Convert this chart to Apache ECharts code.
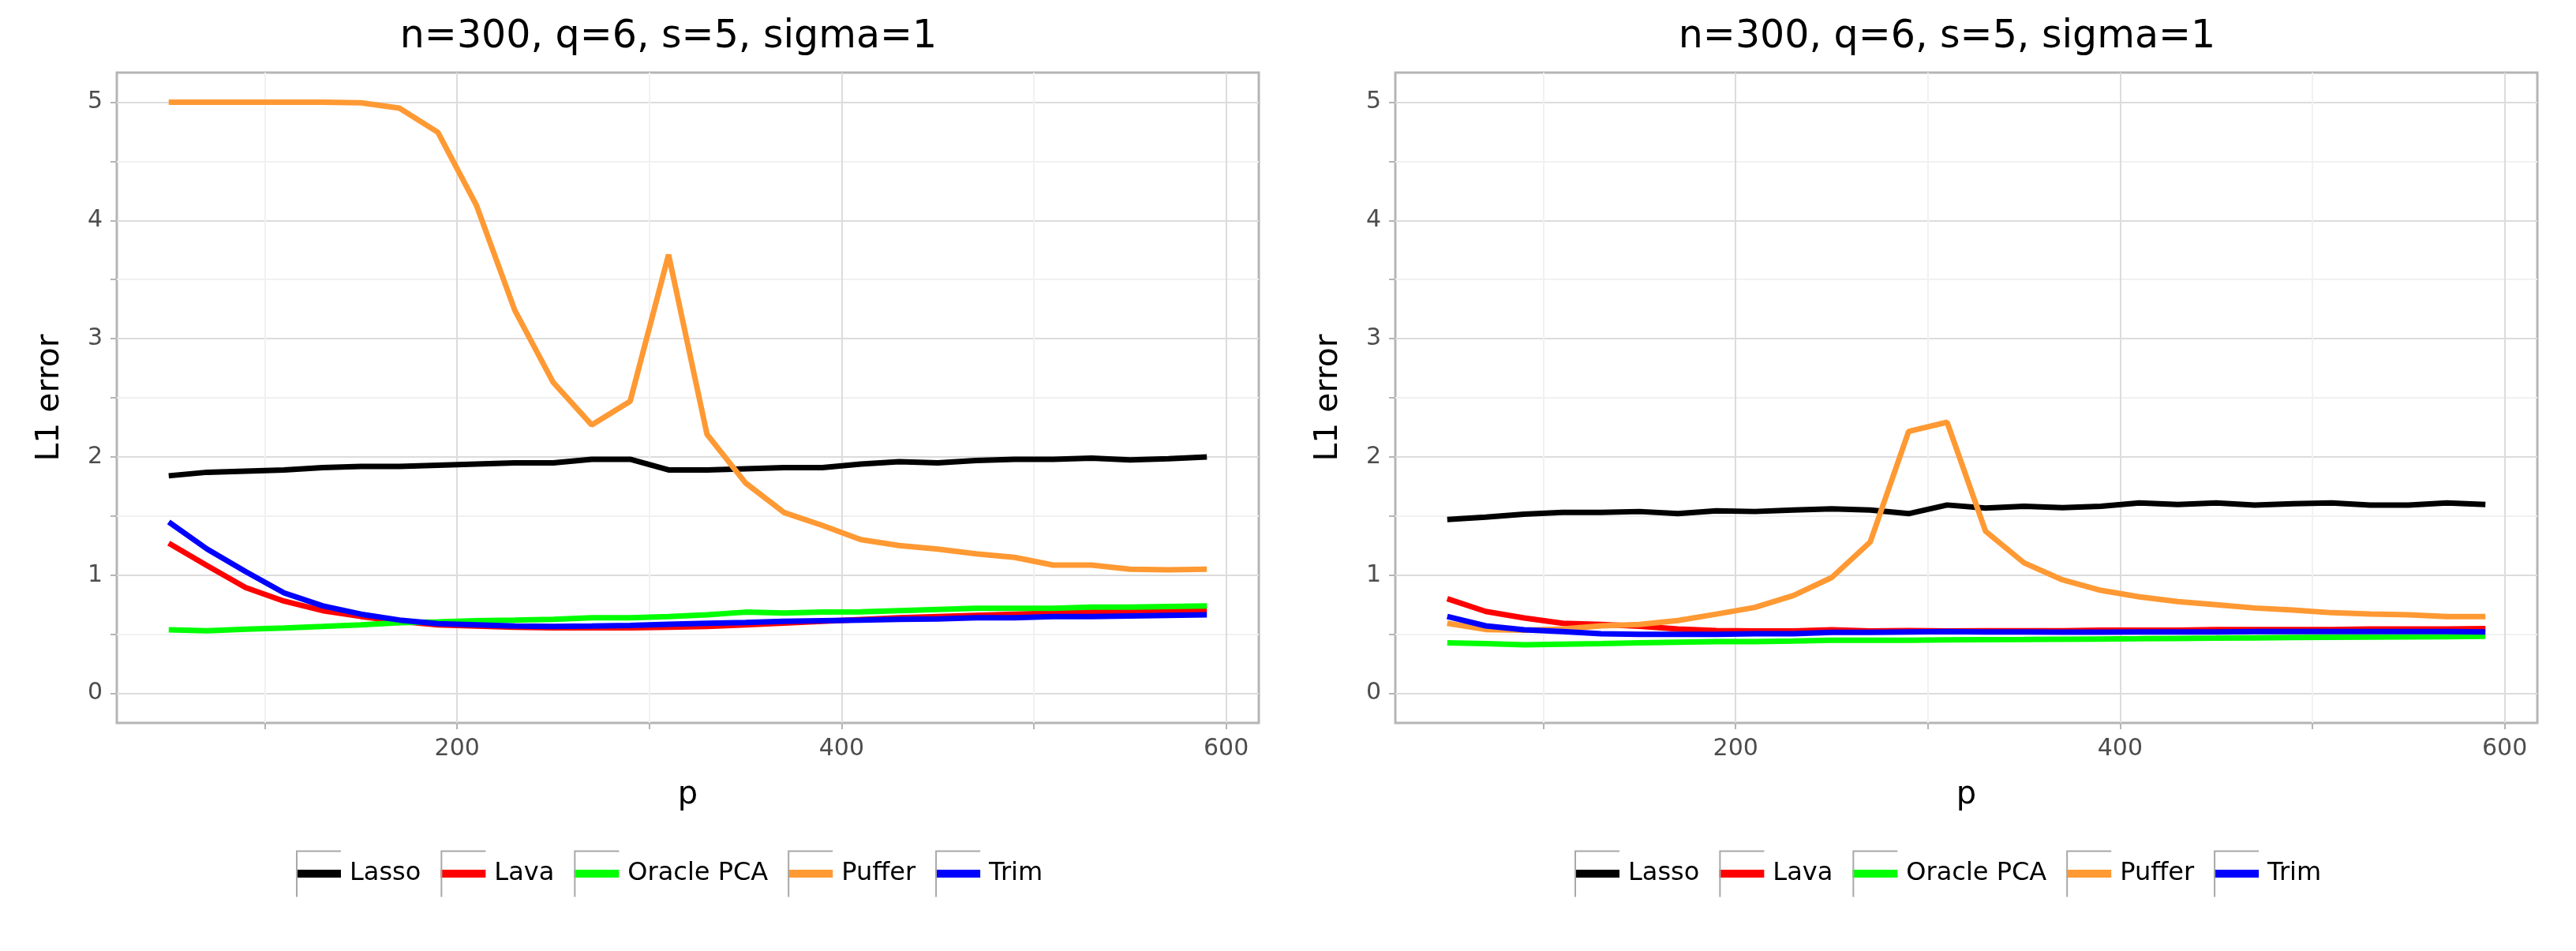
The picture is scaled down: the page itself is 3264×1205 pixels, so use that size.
<!DOCTYPE html>
<html>
<head>
<meta charset="utf-8">
<title>L1 error vs p</title>
<script src="https://cdn.jsdelivr.net/npm/echarts@6/dist/echarts.min.js"></script>
<style>
  html, body { margin: 0; padding: 0; background: #fff; }
  #chart { width: 3264px; height: 1205px; }
</style>
</head>
<body>
<div id="chart"></div>
<script>
// p values shared by both panels
const P = [50, 70, 90, 110, 130, 150, 170, 190, 210, 230, 250, 270, 290, 310,
           330, 350, 370, 390, 410, 430, 450, 470, 490, 510, 530, 550, 570, 590];

const METHODS = ['Lasso', 'Lava', 'Oracle PCA', 'Puffer', 'Trim'];
const COLORS = ['#000000', '#ff0000', '#00ff00', '#ff9933', '#0000ff'];
const PANEL_TITLE = 'n=300, q=6, s=5, sigma=1';

const X_TICKS = [100, 200, 300, 400, 500, 600];
const X_LABELS = [200, 400, 600];
const Y_TICKS = [0, 0.5, 1, 1.5, 2, 2.5, 3, 3.5, 4, 4.5, 5];
const Y_LABELS = [0, 1, 2, 3, 4, 5];

// left panel
const lassoLeft  = [1.84, 1.87, 1.88, 1.89, 1.91, 1.92, 1.92, 1.93, 1.94, 1.95, 1.95, 1.98, 1.98, 1.89,
                    1.89, 1.90, 1.91, 1.91, 1.94, 1.96, 1.95, 1.97, 1.98, 1.98, 1.99, 1.975, 1.985, 2.0];
const lavaLeft   = [1.27, 1.08, 0.895, 0.78, 0.70, 0.65, 0.61, 0.58, 0.57, 0.56, 0.555, 0.555, 0.555, 0.56,
                    0.566, 0.58, 0.595, 0.61, 0.625, 0.64, 0.65, 0.66, 0.67, 0.68, 0.687, 0.69, 0.70, 0.705];
const oracleLeft = [0.537, 0.53, 0.543, 0.553, 0.566, 0.58, 0.597, 0.604, 0.615, 0.62, 0.626, 0.64, 0.64, 0.65,
                    0.664, 0.687, 0.68, 0.687, 0.69, 0.70, 0.71, 0.72, 0.72, 0.72, 0.73, 0.73, 0.735, 0.74];
const pufferLeft = [5.0, 5.0, 5.0, 5.0, 5.0, 4.995, 4.95, 4.745, 4.13, 3.24, 2.63, 2.27, 2.47, 3.71,
                    2.19, 1.78, 1.53, 1.42, 1.30, 1.25, 1.22, 1.18, 1.15, 1.085, 1.085, 1.05, 1.045, 1.05];
const trimLeft   = [1.45, 1.22, 1.03, 0.85, 0.74, 0.67, 0.62, 0.59, 0.58, 0.57, 0.566, 0.57, 0.575, 0.585,
                    0.593, 0.60, 0.61, 0.615, 0.62, 0.626, 0.63, 0.64, 0.64, 0.65, 0.65, 0.655, 0.66, 0.664];

// right panel
const lassoRight  = [1.47, 1.49, 1.515, 1.53, 1.53, 1.538, 1.52, 1.544, 1.538, 1.55, 1.56, 1.55, 1.52, 1.593,
                     1.567, 1.582, 1.571, 1.582, 1.611, 1.598, 1.611, 1.593, 1.604, 1.611, 1.593, 1.593, 1.611, 1.598];
const lavaRight   = [0.80, 0.693, 0.638, 0.593, 0.582, 0.567, 0.544, 0.531, 0.527, 0.527, 0.538, 0.527, 0.531, 0.527,
                     0.53, 0.53, 0.53, 0.535, 0.535, 0.535, 0.54, 0.54, 0.54, 0.54, 0.545, 0.545, 0.545, 0.548];
const oracleRight = [0.427, 0.42, 0.41, 0.415, 0.42, 0.427, 0.433, 0.438, 0.438, 0.442, 0.449, 0.449, 0.449, 0.453,
                     0.455, 0.456, 0.458, 0.46, 0.462, 0.465, 0.467, 0.47, 0.472, 0.474, 0.476, 0.478, 0.48, 0.482];
const pufferRight = [0.593, 0.54, 0.535, 0.545, 0.571, 0.582, 0.616, 0.67, 0.727, 0.827, 0.98, 1.28, 2.215, 2.293,
                     1.371, 1.104, 0.96, 0.871, 0.816, 0.776, 0.749, 0.722, 0.704, 0.682, 0.671, 0.664, 0.649, 0.649];
const trimRight   = [0.65, 0.571, 0.538, 0.522, 0.504, 0.5, 0.5, 0.5, 0.504, 0.504, 0.516, 0.516, 0.52, 0.522,
                     0.52, 0.52, 0.518, 0.518, 0.52, 0.52, 0.52, 0.522, 0.522, 0.522, 0.522, 0.522, 0.522, 0.52];

const PANELS = [
  [lassoLeft, lavaLeft, oracleLeft, pufferLeft, trimLeft],
  [lassoRight, lavaRight, oracleRight, pufferRight, trimRight]
];

const FONT = "'DejaVu Sans', 'Noto Sans', sans-serif";
const MAJOR = '#dcdcdc';
const MINOR = '#f1f1f1';
const FRAME = '#b5b5b5';
const TICK_TEXT = '#4d4d4d';

// panel geometry (px)
const GRID_W = 1447;
const GRID_TOP = 92;
const GRID_BOTTOM = 289;
const PANEL_LEFT = [148, 1768];
const PANEL_CENTER = [847, 2467];
const LEGEND_LEFT = [375, 1995];
const LEGEND_MID = 1107;

const chart = echarts.init(document.getElementById('chart'), null, { renderer: 'canvas' });

// split line colour per tick: multiples of the label step are major, the rest minor
const splitColors = (ticks, labels) => ticks.map((t) => (labels.indexOf(t) >= 0 ? MAJOR : MINOR));

const xAxisFor = (i) => ({
  type: 'value',
  gridIndex: i,
  min: 23, max: 617,
  minInterval: 100, maxInterval: 100,
  name: 'p',
  nameLocation: 'middle',
  nameGap: 72,
  nameTextStyle: { fontFamily: FONT, fontSize: 40, color: '#000' },
  axisLine: { show: false, onZero: false },
  axisTick: { show: true, length: 8, lineStyle: { color: FRAME, width: 2 }, customValues: X_TICKS },
  axisLabel: {
    fontFamily: FONT, fontSize: 30, color: TICK_TEXT, margin: 18,
    customValues: X_LABELS,
    formatter: (v) => (X_LABELS.indexOf(v) >= 0 ? String(v) : '')
  },
  splitLine: { show: true, lineStyle: { width: 2, color: splitColors(X_TICKS, X_LABELS) } }
});

const yAxisFor = (i) => ({
  type: 'value',
  gridIndex: i,
  min: -0.25, max: 5.25,
  minInterval: 0.5, maxInterval: 0.5,
  name: 'L1 error',
  nameLocation: 'middle',
  nameGap: 64,
  nameTextStyle: { fontFamily: FONT, fontSize: 41, color: '#000' },
  axisLine: { show: false, onZero: false },
  axisTick: { show: true, length: 8, lineStyle: { color: FRAME, width: 2 }, customValues: Y_TICKS },
  axisLabel: {
    fontFamily: FONT, fontSize: 30, color: TICK_TEXT, margin: 18,
    customValues: Y_LABELS,
    formatter: (v) => (Y_LABELS.indexOf(v) >= 0 ? String(v) : '')
  },
  splitLine: { show: true, lineStyle: { width: 2, color: splitColors(Y_TICKS, Y_LABELS) } }
});

const series = [];
PANELS.forEach((lists, pi) => {
  lists.forEach((vals, mi) => {
    series.push({
      type: 'line',
      name: METHODS[mi],
      xAxisIndex: pi,
      yAxisIndex: pi,
      data: P.map((p, j) => [p, vals[j]]),
      symbol: 'none',
      showSymbol: false,
      lineStyle: { width: 7, color: COLORS[mi] },
      itemStyle: { color: COLORS[mi] },
      emphasis: { disabled: true },
      animation: false
    });
  });
});

const legends = [];
[0, 1].forEach((pi) => {
  // coloured keys with labels
  legends.push({
    left: LEGEND_LEFT[pi], top: LEGEND_MID - 20, padding: 0,
    orient: 'horizontal', selectedMode: false,
    icon: 'rect', itemWidth: 57, itemHeight: 10, itemGap: 25,
    textStyle: { fontFamily: FONT, fontSize: 32, color: '#000', lineHeight: 40, padding: [0, 0, 0, 6] },
    data: METHODS
  });
  // grey key frames (top and left edges)
  legends.push({
    left: LEGEND_LEFT[pi], top: LEGEND_MID - 29.5, padding: 0,
    orient: 'horizontal', selectedMode: false,
    icon: 'path://M0,0L57,0L57,2L2,2L2,59L0,59Z', itemWidth: 57, itemHeight: 59, itemGap: 25,
    itemStyle: { color: '#a8a8a8', borderWidth: 0 },
    textStyle: { fontFamily: FONT, fontSize: 32, color: 'rgba(0,0,0,0)', lineHeight: 40, padding: [0, 0, 0, 6] },
    data: METHODS
  });
});

chart.setOption({
  backgroundColor: '#ffffff',
  animation: false,
  title: [0, 1].map((pi) => ({
    text: PANEL_TITLE,
    left: PANEL_CENTER[pi], top: 19, padding: 0,
    textAlign: 'center',
    textStyle: { fontFamily: FONT, fontSize: 49, fontWeight: 'normal', color: '#000', lineHeight: 56 }
  })),
  legend: legends,
  grid: [0, 1].map((pi) => ({
    left: PANEL_LEFT[pi], top: GRID_TOP, width: GRID_W, bottom: GRID_BOTTOM,
    show: true, backgroundColor: '#ffffff', borderColor: FRAME, borderWidth: 3
  })),
  xAxis: [xAxisFor(0), xAxisFor(1)],
  yAxis: [yAxisFor(0), yAxisFor(1)],
  series: series
});
</script>
</body>
</html>
